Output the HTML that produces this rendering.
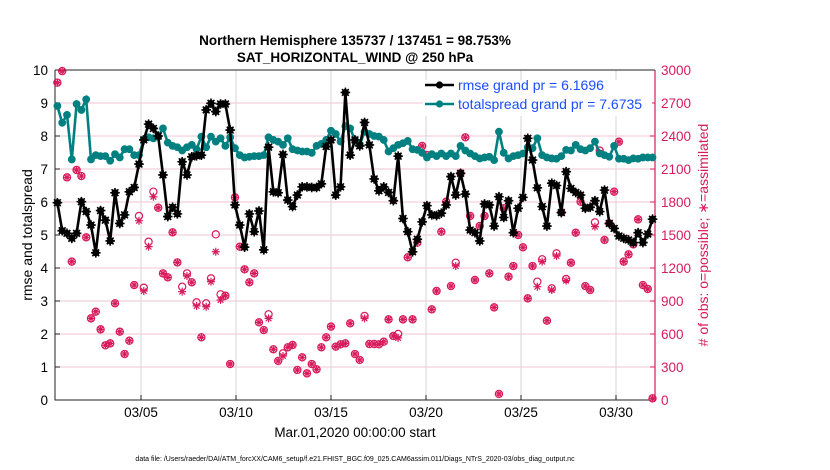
<!DOCTYPE html>
<html><head><meta charset="utf-8"><style>
body{margin:0;background:#fff;}
svg{display:block;font-family:"Liberation Sans",sans-serif;}
</style></head><body>
<svg id="chart" width="830" height="470" viewBox="0 0 830 470">
<text x="355" y="45" text-anchor="middle" font-size="13.5" font-weight="bold">Northern Hemisphere 135737 / 137451 = 98.753%</text>
<text x="355" y="62" text-anchor="middle" font-size="13.5" font-weight="bold">SAT_HORIZONTAL_WIND @ 250 hPa</text>
<g id="grid"></g>
<g id="axes"></g>
<g id="obs"></g>
<g id="series"></g>
<g id="legend"></g>
<text x="32" y="235" transform="rotate(-90 32 235)" text-anchor="middle" font-size="14">rmse and totalspread</text>
<text x="708" y="235" transform="rotate(-90 708 235)" text-anchor="middle" font-size="14" fill="#d81b5a"># of obs: o=possible; ∗=assimilated</text>
<text x="355" y="437" text-anchor="middle" font-size="13.5">Mar.01,2020 00:00:00 start</text>
<text x="355" y="461" text-anchor="middle" font-size="7">data file: /Users/raeder/DAI/ATM_forcXX/CAM6_setup/f.e21.FHIST_BGC.f09_025.CAM6assim.011/Diags_NTrS_2020-03/obs_diag_output.nc</text>
</svg>
<script>
const rmse=[5.98,5.13,5.05,4.9,5.05,6.01,5.71,5.30,4.46,5.74,5.45,4.82,6.28,5.35,5.61,6.31,6.44,7.15,7.88,8.36,8.23,8.0,6.82,5.56,5.84,
5.64,7.22,6.82,7.37,7.4,7.42,8.79,8.99,8.74,8.97,8.97,8.18,5.91,5.30,4.63,5.64,5.1,5.73,4.55,7.66,6.31,6.28,7.44,6.06,5.86,
6.21,6.46,6.46,6.44,6.44,6.55,7.68,7.88,6.21,6.46,9.32,7.42,7.88,7.7,8.41,7.73,6.7,6.34,6.46,6.29,6.04,7.39,5.5,5.1,4.49,
4.87,5.4,5.89,5.61,5.59,5.66,5.91,6.77,6.21,6.87,6.24,5.15,5.07,4.82,5.94,5.91,5.27,6.16,5.53,6.04,5.07,5.81,6.14,7.93,7.27,
6.43,5.86,5.27,6.57,6.5,5.68,6.92,6.41,6.29,6.21,5.81,5.84,6.04,5.71,6.36,5.35,5.2,4.97,4.9,4.85,4.77,5.07,4.77,5.03,5.48];
const spread=[8.91,8.40,8.64,7.29,8.97,8.79,9.11,7.29,7.42,7.39,7.39,7.25,7.45,7.35,7.6,7.6,7.42,7.42,7.9,7.96,7.93,7.98,8.23,7.8,7.7,
7.66,7.56,7.66,7.73,7.6,7.98,7.66,7.98,7.83,7.93,7.7,7.96,7.63,7.42,7.35,7.37,7.39,7.39,7.42,7.96,7.88,7.83,7.73,7.93,7.6,
7.56,7.53,7.53,7.49,7.7,7.76,7.88,8.16,8.06,7.83,8.3,8.23,7.88,7.73,8.13,8.06,8.0,7.98,7.88,7.53,7.63,7.73,7.78,7.85,7.6,
7.58,7.49,7.35,7.45,7.39,7.47,7.39,7.47,7.39,7.7,7.56,7.47,7.39,7.32,7.35,7.37,7.27,8.13,7.49,7.32,7.39,7.42,7.47,7.66,7.63,
7.93,7.42,7.35,7.32,7.31,7.39,7.58,7.56,7.73,7.6,7.56,7.63,7.83,7.47,7.42,7.37,7.7,7.31,7.31,7.27,7.32,7.31,7.35,7.35,7.35];
const obsPossible=[2885,2990,2024,1258,2091,2036,1479,742,803,642,497,515,879,621,418,539,1045,1673,1021,1439,1894,1748,1151,1115,1524,
1251,1030,1151,1070,888,570,879,1106,1506,961,948,327,1842,1394,1188,1070,1151,706,636,779,461,355,424,479,500,
273,388,242,327,279,479,570,667,485,506,515,697,418,364,764,509,509,506,530,733,582,600,733,1297,733,
1430,2309,2227,824,991,1530,1803,1036,1248,2061,2388,1673,1091,1582,1673,1151,842,55,1742,1121,1218,1500,1388,924,1218,
1076,1279,721,1015,1333,1706,1100,1248,1521,1803,1036,1000,1615,2267,1455,1606,1894,2348,1258,1324,1415,1642,1045,1009,15];
const obsAssim=[2885,2990,2024,1258,2091,2036,1479,742,803,642,497,515,879,621,418,539,1045,1630,991,1394,1848,1748,1151,1115,1524,
1251,985,1127,1070,855,570,848,1076,1348,909,948,327,1842,1394,1188,1070,1151,706,636,742,461,355,400,479,500,
273,388,242,327,279,479,570,667,485,506,515,697,418,364,742,509,509,506,530,733,582,564,733,1297,733,
1430,2309,2227,824,991,1530,1803,1036,1218,2061,2388,1673,1091,1582,1673,1151,842,55,1742,1121,1218,1500,1388,924,1218,
1030,1258,721,1000,1309,1706,1085,1248,1521,1803,1036,1000,1576,2248,1455,1606,1894,2348,1258,1324,1415,1642,1045,1009,15];
const xTickDays=[5,10,15,20,25,30];
const xTickLabels=["03/05","03/10","03/15","03/20","03/25","03/30"];
const leftTicks=[0,1,2,3,4,5,6,7,8,9,10];
const rightTicks=[0,300,600,900,1200,1500,1800,2100,2400,2700,3000];

const NS="http://www.w3.org/2000/svg";
const L=55,R=655,T=70,B=400;
const t0=0.474, pxDay=19;
const xDay=d=>L+(d-t0)*pxDay;
const xIdx=i=>xDay(0.6+i*0.2526);
const yL=v=>B-(v/10)*(B-T);
const yR=v=>B-(v/3000)*(B-T);
const RED="#d81b5a";
function mk(tag,attrs,parent){const e=document.createElementNS(NS,tag);for(const k in attrs)e.setAttribute(k,attrs[k]);parent.appendChild(e);return e;}
const grid=document.getElementById('grid'),axes=document.getElementById('axes'),obs=document.getElementById('obs'),ser=document.getElementById('series'),leg=document.getElementById('legend');

rightTicks.forEach((v,i)=>{
 if(v>0&&v<3000){const g=mk('line',{x1:L,x2:R,y1:yR(v),y2:yR(v),stroke:'#f2c4d6','stroke-width':1},grid);
 
 }
 const t=mk('text',{x:R+6,y:yR(v)+5,'font-size':13.5,fill:RED},axes);t.textContent=v;
 
 
 mk('line',{x1:R-5,x2:R,y1:yR(v),y2:yR(v),stroke:RED},axes);
});
leftTicks.forEach(v=>{
 const t=mk('text',{x:L-7,y:yL(v)+5,'font-size':13.5,'text-anchor':'end'},axes);t.textContent=v;
 
 
 mk('line',{x1:L,x2:L+5,y1:yL(v),y2:yL(v),stroke:'#222'},axes);
});
xTickDays.forEach((d,i)=>{
 const x=xDay(d);
 const g=mk('line',{x1:x,x2:x,y1:T,y2:B,stroke:'#d6d6d6','stroke-width':1},grid);
 
 
 mk('line',{x1:x,x2:x,y1:B,y2:B-5,stroke:'#222'},axes);
 const t=mk('text',{x:x,y:B+17,'font-size':13.5,'text-anchor':'middle'},axes);t.textContent=xTickLabels[i];
 
 
});
const ax1=mk('path',{d:`M${L},${T}H${R}M${L},${T}V${B}H${R}`,stroke:'#222',fill:'none','stroke-width':1},axes);


const ax2=mk('line',{x1:R,x2:R,y1:T,y2:B,stroke:RED,'stroke-width':1.2},axes);



function star(x,y,r,parent,color,w){
 let d='';for(let k=0;k<4;k++){const a=k*Math.PI/4;d+=`M${x-r*Math.cos(a)},${y-r*Math.sin(a)}L${x+r*Math.cos(a)},${y+r*Math.sin(a)}`;}
 return mk('path',{d:d,stroke:color,'stroke-width':w,fill:'none'},parent);
}
obsPossible.forEach((v,i)=>{
 const c=mk('circle',{cx:xIdx(i),cy:yR(v),r:3.6,fill:'none',stroke:RED,'stroke-width':1.2},obs);
 
 
});
obsAssim.forEach((v,i)=>{
 const s=star(xIdx(i),yR(v),4,obs,RED,1.2);
 
 
});
function line(arr,color,name){
 const p=mk('polyline',{points:arr.map((v,i)=>xIdx(i)+','+yL(v)).join(' '),fill:'none',stroke:color,'stroke-width':2.6},ser);
 
 
}
line(spread,'#008080','totalspread');
spread.forEach((v,i)=>{
 const c=mk('circle',{cx:xIdx(i),cy:yL(v),r:3.9,fill:'#008080'},ser);
 
 
});
line(rmse,'#000','rmse');
rmse.forEach((v,i)=>{
 const c=mk('circle',{cx:xIdx(i),cy:yL(v),r:3.5,fill:'#000'},ser);
 
 
 star(xIdx(i),yL(v),4.8,ser,'#000',1.6);
});

const bg=mk('rect',{x:423,y:80,width:229,height:36,fill:'#fff'},leg);


[['#000','rmse grand pr = 6.1696','legend-entry-rmse',85],['#008080','totalspread grand pr = 7.6735','legend-entry-totalspread',104]].forEach(e=>{
 const g=mk('g',{},leg);
 
 
 mk('line',{x1:425,x2:454,y1:e[3],y2:e[3],stroke:e[0],'stroke-width':2.6},g);
 mk('circle',{cx:439.5,cy:e[3],r:3.6,fill:e[0]},g);
 const t=mk('text',{x:458,y:e[3]+5,'font-size':14,fill:'#1a4dff'},g);t.textContent=e[1];
});
</script>
</body></html>
